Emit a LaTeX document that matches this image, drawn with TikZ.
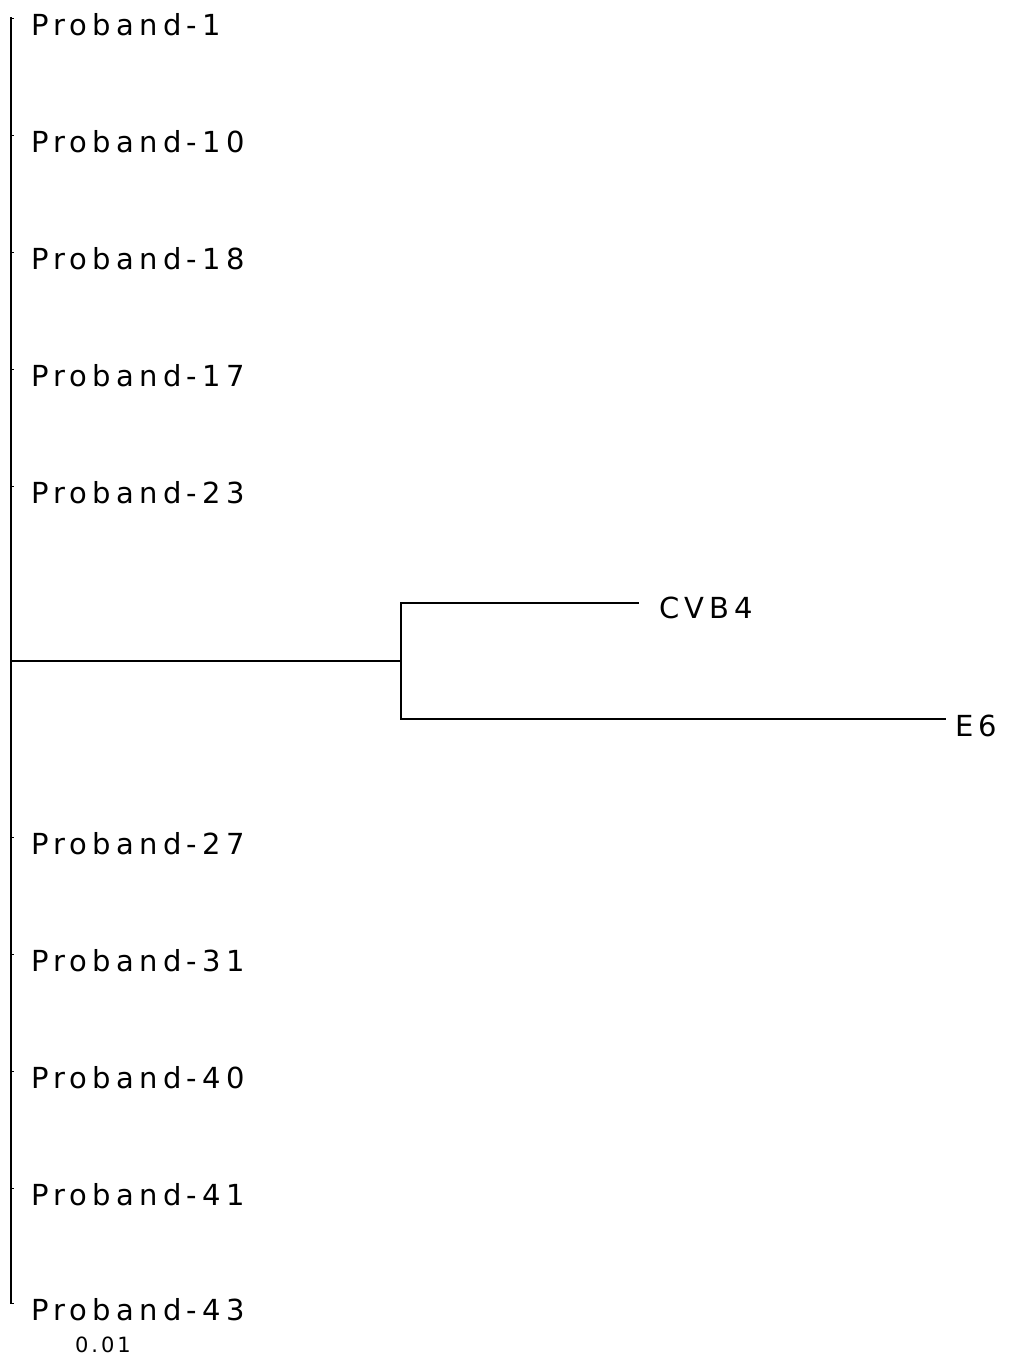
\documentclass[tikz,border=0pt]{standalone}
\usepackage{fontspec}
\setmainfont{DejaVu Sans}[LetterSpace=18]
\newfontfamily\scalefont{DejaVu Sans}[LetterSpace=14]
\begin{document}
\begin{tikzpicture}[x=1pt,y=-1pt,
  branch/.style={line width=2pt,line cap=rect},
  leaf/.style={anchor=base west,inner sep=0pt,font=\fontsize{29}{32}\selectfont},
  scalelabel/.style={anchor=base west,inner sep=0pt,font=\scalefont\fontsize{21}{24}\selectfont}]
\useasboundingbox (0,0) rectangle (1012,1358);
% root vertical
\coordinate (top) at (11,18);
\coordinate (bot) at (11,1303);
\draw[branch] (top) -- (bot);
% leaves on the root polytomy
\foreach \name/\y/\lab in {p1/18/1, p10/135/10, p18/252/18, p17/369/17, p23/486/23,
  p27/837/27, p31/954/31, p40/1071/40, p41/1188/41, p43/1303/43}{
  \coordinate (t\name) at (11,\y);
  \coordinate (e\name) at (14,\y);
  \draw[line width=1pt] (t\name) -- (e\name);
  \node[leaf] (\name) at (31,\y+17) {Proband-\lab};
}
% clade CVB4 / E6
\coordinate (r) at (11,661);
\coordinate (c) at (401,661);
\coordinate (ctop) at (401,603);
\coordinate (cbot) at (401,719);
\coordinate (cvbend) at (638,603);
\coordinate (e6end) at (945,719);
\draw[branch] (r) -- (c);
\draw[branch] (ctop) -- (cbot);
\draw[branch] (ctop) -- (cvbend);
\draw[branch] (cbot) -- (e6end);
\node[leaf] (cvb4) at (659,618) {CVB4};
\node[leaf] (e6) at (955,736) {E6};
\node[scalelabel] (scale) at (75,1352) {0.01};
\end{tikzpicture}
\end{document}
